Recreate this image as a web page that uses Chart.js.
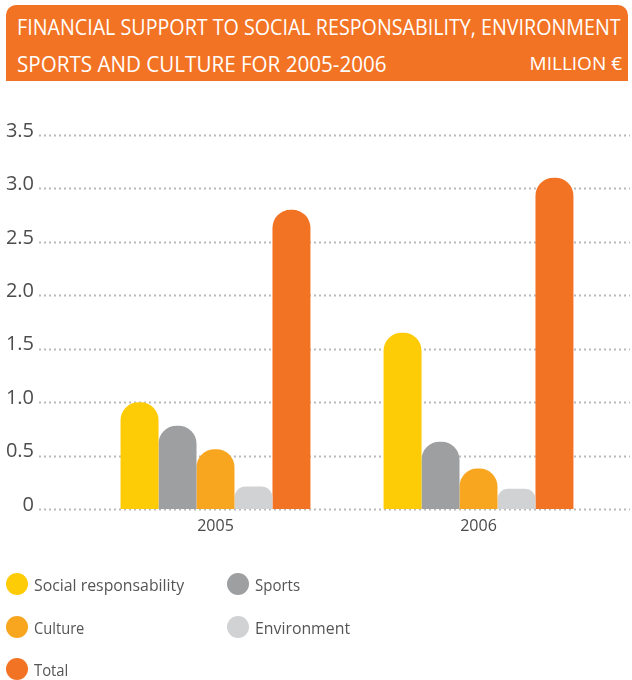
<!DOCTYPE html>
<html>
<head>
<meta charset="utf-8">
<script src="https://cdn.jsdelivr.net/npm/chart.js@4.4.1/dist/chart.umd.min.js"></script>
<style>
  html, body { margin: 0; padding: 0; background: #ffffff; }
  body { width: 632px; height: 680px; position: relative; overflow: hidden; font-family: "Open Sans", "Noto Sans", sans-serif; }
  #chart { position: absolute; left: 0; top: 0; }
  .header { position: absolute; left: 6px; top: 5px; width: 622px; height: 76px; background: #f37324; border-radius: 10px 10px 0 0; }
  .hline { position: absolute; width: max-content; color: #ffffff; font-size: 22px; line-height: 22px; white-space: nowrap; transform-origin: 0 0; }
  .unit { position: absolute; width: max-content; color: #ffffff; font-size: 19px; line-height: 19px; white-space: nowrap; transform-origin: 100% 0; }
  .legend-item { position: absolute; display: flex; align-items: center; height: 24px; }
  .dot { width: 22px; height: 22px; border-radius: 50%; flex: none; }
  .ltext { margin-left: 6px; width: max-content; color: #555555; font-size: 17px; white-space: nowrap; transform-origin: 0 50%; }
</style>
</head>
<body>
<canvas id="chart" width="632" height="680"></canvas>
<div class="header">
  <div class="hline" id="h1" style="left:11px; top:9.5px;">FINANCIAL SUPPORT TO SOCIAL RESPONSABILITY, ENVIRONMENT</div>
  <div class="hline" id="h2" style="left:11px; top:46.5px;">SPORTS AND CULTURE FOR 2005-2006</div>
  <div class="unit" id="h3" style="right:6px; top:49px;">MILLION €</div>
</div>
<div id="legend"></div>
<script>
// Years on the category axis
const years = ['2005', '2006'];

// Support per field, million €
const socialResponsability = [1.0, 1.65];
const sports = [0.78, 0.63];
const culture = [0.56, 0.38];
const environment = [0.21, 0.19];
const total = [2.8, 3.1];

// Value axis ticks
const yTicks = [0, 0.5, 1.0, 1.5, 2.0, 2.5, 3.0, 3.5];

const seriesNames = ['Social responsability', 'Sports', 'Culture', 'Environment', 'Total'];
const seriesColors = ['#fecb07', '#9e9fa1', '#f8a61f', '#d1d2d4', '#f37324'];
const seriesValues = [socialResponsability, sports, culture, environment, total];

// Dotted guide lines that run past the plot area on both sides
const dottedGrid = {
  id: 'dottedGrid',
  beforeDatasetsDraw(chart) {
    const { ctx } = chart;
    const y = chart.scales.y;
    ctx.save();
    ctx.strokeStyle = '#b9b9b9';
    ctx.lineWidth = 2;
    ctx.setLineDash([2, 3]);
    yTicks.forEach(v => {
      const py = Math.round(y.getPixelForValue(v)) + 0.5;
      ctx.beginPath();
      ctx.moveTo(39, py);
      ctx.lineTo(630, py);
      ctx.stroke();
    });
    ctx.restore();
  }
};

new Chart(document.getElementById('chart'), {
  type: 'bar',
  data: {
    labels: years,
    datasets: seriesNames.map((name, i) => ({
      label: name,
      data: seriesValues[i],
      backgroundColor: seriesColors[i],
      borderWidth: 0,
      borderRadius: 18,
      borderSkipped: 'start',
      barPercentage: 1,
      categoryPercentage: 0.722
    }))
  },
  options: {
    responsive: false,
    animation: false,
    devicePixelRatio: 1,
    layout: { padding: { top: 135, right: 22, bottom: 131, left: 0 } },
    plugins: { legend: { display: false }, tooltip: { enabled: false } },
    scales: {
      x: {
        grid: { display: false, drawTicks: false },
        border: { display: false },
        ticks: { color: '#4a4a4a', font: { family: 'Open Sans', size: 16 }, padding: 8 },
        afterFit(scale) { scale.height = 40; }
      },
      y: {
        min: 0,
        max: 3.5,
        afterBuildTicks(scale) { scale.ticks = yTicks.map(v => ({ value: v })); },
        grid: { display: false, drawTicks: false },
        border: { display: false },
        ticks: {
          color: '#4d4d4d',
          font: { family: 'Open Sans', size: 20 },
          padding: 50,
          labelOffset: -4,
          callback: v => (v === 0 ? '0' : Number(v).toFixed(1))
        },
        afterFit(scale) { scale.width = 84; }
      }
    }
  },
  plugins: [dottedGrid]
});

// Legend: two columns, three rows
const legendPos = [[6, 572], [227, 572], [6, 615], [227, 615], [6, 657]];
const legendWidths = [150, 45, 50, 95, 34];
const legend = document.getElementById('legend');
seriesNames.forEach((name, i) => {
  const item = document.createElement('div');
  item.className = 'legend-item';
  item.style.left = legendPos[i][0] + 'px';
  item.style.top = legendPos[i][1] + 'px';
  const dot = document.createElement('span');
  dot.className = 'dot';
  dot.style.background = seriesColors[i];
  const txt = document.createElement('span');
  txt.className = 'ltext';
  txt.textContent = name;
  txt.dataset.w = legendWidths[i];
  item.appendChild(dot);
  item.appendChild(txt);
  legend.appendChild(item);
});

// Squeeze text into the condensed widths of the layout
function fit(el, w) {
  el.style.transform = 'none';
  const real = el.offsetWidth;
  if (real > 0) el.style.transform = 'scaleX(' + (w / real) + ')';
}
function fitAll() {
  fit(document.getElementById('h1'), 604);
  fit(document.getElementById('h2'), 370);
  fit(document.getElementById('h3'), 92);
  document.querySelectorAll('.ltext').forEach(t => fit(t, Number(t.dataset.w)));
}
fitAll();
if (document.fonts && document.fonts.ready) document.fonts.ready.then(fitAll);
</script>
</body>
</html>
